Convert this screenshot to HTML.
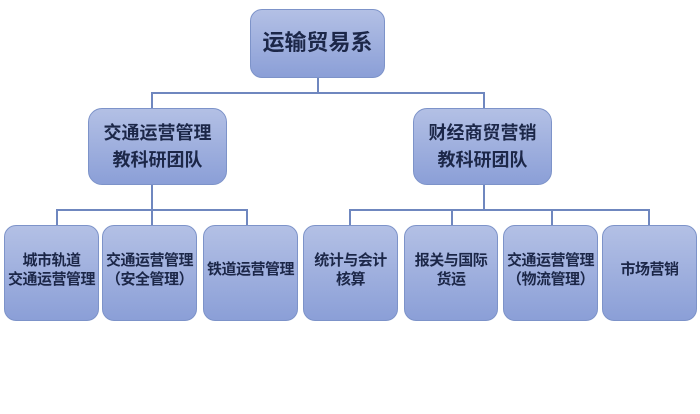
<!DOCTYPE html>
<html><head><meta charset="utf-8"><style>
body{margin:0;width:700px;height:414px;background:#fff;position:relative;overflow:hidden;font-family:"Liberation Sans","Noto Sans CJK SC",sans-serif;}
.b{position:absolute;box-sizing:border-box;border:1.5px solid #7d93c9;border-radius:14px;background:linear-gradient(#b3c0e5,#8b9fd7);display:flex;align-items:center;justify-content:center;text-align:center;color:#1c2748;font-weight:bold;line-height:1.3;}
.s{font-size:15px;border-radius:12px;padding-bottom:6px;letter-spacing:-0.5px}
.m{font-size:18px;line-height:1.45}
.l{position:absolute;background:#6f87bf;}
</style></head><body>
<div class="l" style="left:317px;top:78px;width:1.5px;height:15px"></div>
<div class="l" style="left:151px;top:92px;width:333px;height:1.5px"></div>
<div class="l" style="left:151px;top:92px;width:1.5px;height:16px"></div>
<div class="l" style="left:483px;top:92px;width:1.5px;height:16px"></div>
<div class="l" style="left:151px;top:185px;width:1.5px;height:40px"></div>
<div class="l" style="left:56px;top:209px;width:191px;height:1.5px"></div>
<div class="l" style="left:56px;top:209px;width:1.5px;height:16px"></div>
<div class="l" style="left:246px;top:209px;width:1.5px;height:16px"></div>
<div class="l" style="left:483px;top:185px;width:1.5px;height:25px"></div>
<div class="l" style="left:349px;top:209px;width:300px;height:1.5px"></div>
<div class="l" style="left:349px;top:209px;width:1.5px;height:16px"></div>
<div class="l" style="left:451px;top:209px;width:1.5px;height:16px"></div>
<div class="l" style="left:551px;top:209px;width:1.5px;height:16px"></div>
<div class="l" style="left:648px;top:209px;width:1.5px;height:16px"></div>

<div class="b" style="left:250px;top:9px;width:135px;height:69px;font-size:22px;border-radius:12px">运输贸易系</div>
<div class="b m" style="left:88px;top:108px;width:139px;height:77px">交通运营管理<br>教科研团队</div>
<div class="b m" style="left:413px;top:108px;width:139px;height:77px">财经商贸营销<br>教科研团队</div>

<div class="b s" style="left:4px;top:225px;width:95px;height:96px">城市轨道<br>交通运营管理</div>
<div class="b s" style="left:102px;top:225px;width:95px;height:96px">交通运营管理<br>（安全管理）</div>
<div class="b s" style="left:203px;top:225px;width:95px;height:96px">铁道运营管理</div>
<div class="b s" style="left:303px;top:225px;width:95px;height:96px">统计与会计<br>核算</div>
<div class="b s" style="left:404px;top:225px;width:94px;height:96px">报关与国际<br>货运</div>
<div class="b s" style="left:503px;top:225px;width:95px;height:96px">交通运营管理<br>（物流管理）</div>
<div class="b s" style="left:602px;top:225px;width:95px;height:96px">市场营销</div>
</body></html>
